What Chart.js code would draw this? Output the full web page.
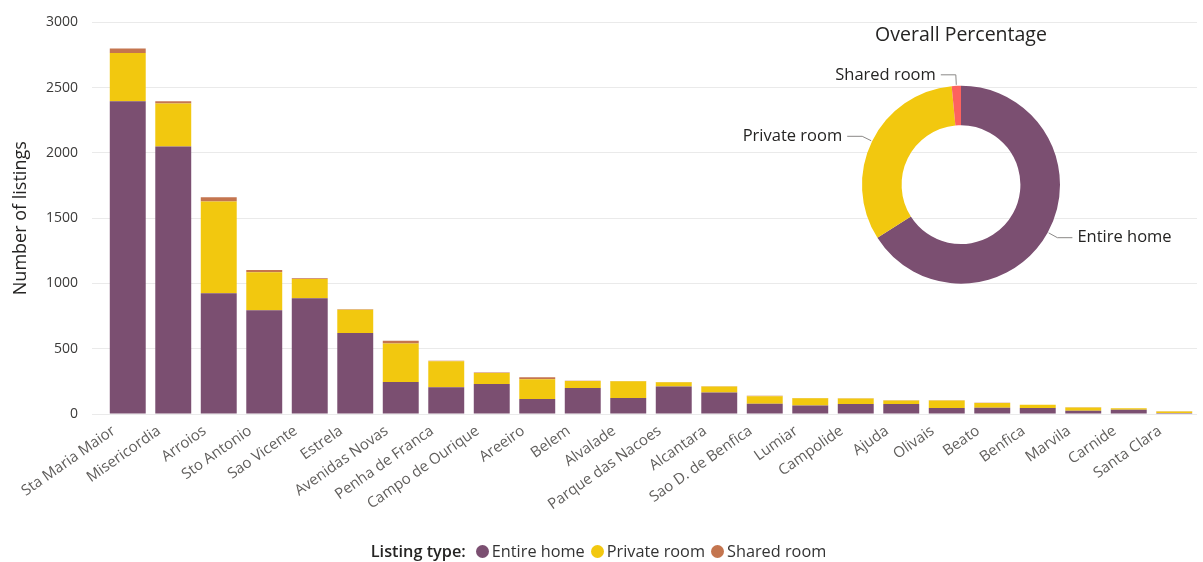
<!DOCTYPE html>
<html>
<head>
<meta charset="utf-8">
<title>Listings by neighbourhood</title>
<script src="https://cdn.jsdelivr.net/npm/chart.js@4.4.0/dist/chart.umd.min.js"></script>
<style>
  html, body { margin: 0; padding: 0; background: #fff; }
  #wrap { position: relative; width: 1203px; height: 562px; font-family: "Segoe UI", "Open Sans", sans-serif; }
  #barChart { position: absolute; left: 0; top: 0; }
  #donutChart { position: absolute; left: 700px; top: 10px; }
  #legend {
    position: absolute; left: 0; width: 1203px; top: 540px;
    display: flex; justify-content: center; align-items: center;
    font-size: 16.3px; color: #333; white-space: nowrap;
  }
  #legend .ttl { color: #252423; font-weight: 600; margin-right: 10px; }
  #legend .item { display: flex; align-items: center; margin-right: 6px; }
  #legend .dot { width: 13px; height: 13px; border-radius: 50%; margin-right: 3px; }
</style>
</head>
<body>
<div id="wrap">
  <canvas id="barChart" width="1203" height="562"></canvas>
  <canvas id="donutChart" width="503" height="290"></canvas>
  <div id="legend"></div>
</div>
<script>
// Listings per neighbourhood, split by listing type
const neighbourhoods = [
  "Sta Maria Maior", "Misericordia", "Arroios", "Sto Antonio", "Sao Vicente",
  "Estrela", "Avenidas Novas", "Penha de Franca", "Campo de Ourique", "Areeiro",
  "Belem", "Alvalade", "Parque das Nacoes", "Alcantara", "Sao D. de Benfica",
  "Lumiar", "Campolide", "Ajuda", "Olivais", "Beato", "Benfica", "Marvila",
  "Carnide", "Santa Clara"
];
const entireHome  = [2395, 2050, 925, 795, 886, 620, 245, 205, 230, 114, 200, 122, 210, 165, 78, 66, 76, 76, 46, 48, 46, 25, 32, 8];
const privateRoom = [370, 328, 703, 290, 148, 178, 296, 200, 85, 152, 52, 128, 33, 46, 58, 55, 43, 27, 57, 36, 24, 25, 12, 12];
const sharedRoom  = [35, 17, 33, 18, 6, 5, 20, 3, 3, 15, 2, 3, 2, 2, 3, 2, 2, 3, 2, 2, 1, 2, 1, 1];

const yTicks = [0, 500, 1000, 1500, 2000, 2500, 3000];

// Share of each listing type overall (%)
const listingTypes = ["Entire home", "Private room", "Shared room"];
const overallShare = [66.0, 32.5, 1.5];

const typeColors = ["#7B4F71", "#F2C80F", "#C4754F"];
const donutColors = ["#7B4F71", "#F2C80F", "#FD625E"];

const FONT = "'Segoe UI', 'Open Sans', sans-serif";
Chart.defaults.font.family = FONT;
Chart.defaults.animation = false;

new Chart(document.getElementById("barChart").getContext("2d"), {
  type: "bar",
  data: {
    labels: neighbourhoods,
    datasets: [entireHome, privateRoom, sharedRoom].map((vals, i) => ({
      label: listingTypes[i],
      data: vals,
      backgroundColor: typeColors[i],
      borderWidth: 0,
      barPercentage: 0.79,
      categoryPercentage: 1.0
    }))
  },
  options: {
    responsive: false,
    layout: { padding: { top: 19, right: 6, bottom: 0, left: 0 } },
    plugins: { legend: { display: false }, tooltip: { enabled: false } },
    scales: {
      x: {
        stacked: true,
        grid: { display: false, drawTicks: false },
        border: { display: false },
        ticks: {
          autoSkip: false, maxRotation: 35, minRotation: 35, padding: 8,
          labelOffset: -14, color: "#605E5C", font: { size: 15 }
        },
        afterFit: scale => { scale.height = 148; }
      },
      y: {
        stacked: true,
        min: 0, max: 3000,
        afterBuildTicks: scale => { scale.ticks = yTicks.map(v => ({ value: v })); },
        grid: { color: "#EAEAEA", lineWidth: 1, tickLength: 13 },
        border: { display: false },
        ticks: { padding: 14, color: "#3B3A39", font: { size: 14 }, callback: v => String(v) },
        title: {
          display: true, text: "Number of listings", color: "#252423",
          font: { size: 18 }, padding: { top: 10, bottom: 4 }
        },
        afterFit: scale => { scale.width = 105; }
      }
    }
  }
});

// Outside labels with elbow leader lines for the doughnut
const sliceLabels = {
  id: "sliceLabels",
  afterDatasetsDraw(chart) {
    const ctx = chart.ctx;
    const meta = chart.getDatasetMeta(0);
    ctx.save();
    ctx.font = "16.5px " + FONT;
    ctx.fillStyle = "#252423";
    ctx.strokeStyle = "#8A8886";
    ctx.lineWidth = 1;
    ctx.textBaseline = "middle";
    meta.data.forEach((arc, i) => {
      const { x, y, startAngle, endAngle, outerRadius } = arc.getProps(["x", "y", "startAngle", "endAngle", "outerRadius"], true);
      const mid = (startAngle + endAngle) / 2;
      const x0 = x + Math.cos(mid) * (outerRadius + 1);
      const y0 = y + Math.sin(mid) * (outerRadius + 1);
      const x1 = x + Math.cos(mid) * (outerRadius + 11);
      const y1 = y + Math.sin(mid) * (outerRadius + 11);
      const right = Math.cos(mid) >= 0 && Math.abs(Math.cos(mid)) > 0.2;
      const x2 = right ? x1 + 15 : x1 - 15;
      ctx.beginPath();
      ctx.moveTo(x0, y0);
      ctx.lineTo(x1, y1);
      ctx.lineTo(x2, y1);
      ctx.stroke();
      ctx.textAlign = right ? "left" : "right";
      ctx.fillText(chart.data.labels[i], right ? x2 + 5 : x2 - 5, y1);
    });
    ctx.restore();
  }
};

new Chart(document.getElementById("donutChart").getContext("2d"), {
  type: "doughnut",
  data: {
    labels: listingTypes,
    datasets: [{ data: overallShare, backgroundColor: donutColors, borderWidth: 0 }]
  },
  options: {
    responsive: false,
    cutout: "60%",
    layout: { padding: { top: 0, right: 143, bottom: 16, left: 162 } },
    plugins: {
      legend: { display: false },
      tooltip: { enabled: false },
      title: {
        display: true, text: "Overall Percentage", color: "#252423",
        font: { size: 19.5, weight: "normal" }, padding: { top: 14, bottom: 38 }
      }
    }
  },
  plugins: [sliceLabels]
});

// Legend row under the chart
const legend = document.getElementById("legend");
legend.innerHTML = '<span class="ttl">Listing type:</span>' + listingTypes.map((t, i) =>
  '<span class="item"><span class="dot" style="background:' + typeColors[i] + '"></span>' + t + '</span>'
).join("");
</script>
</body>
</html>
